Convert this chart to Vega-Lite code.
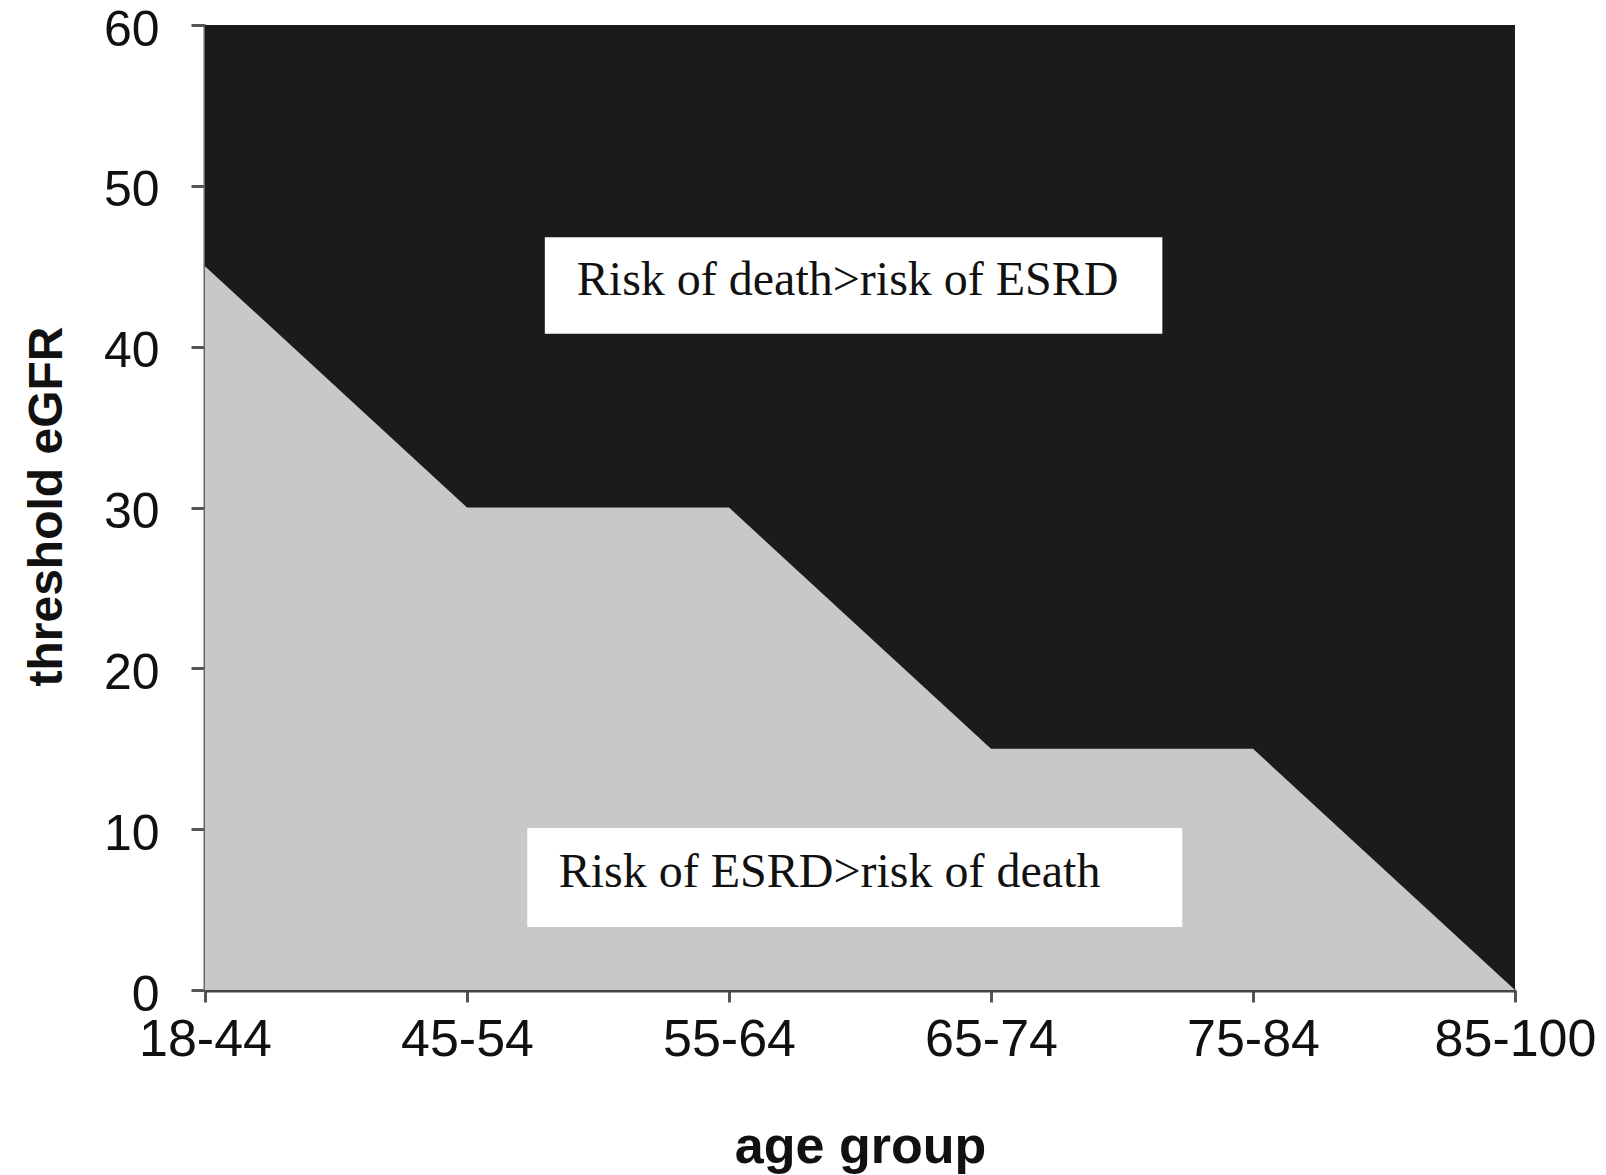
{
  "$schema": "https://vega.github.io/schema/vega-lite/v6.json",
  "autosize": {"type": "none"},
  "width": 1310,
  "height": 965,
  "padding": {"left": 205, "top": 25, "right": 91, "bottom": 185},
  "background": "white",
  "config": {"view": {"stroke": null}},
  "datasets": {
    "series": [
      {"age": "18-44", "idx": 0, "threshold": 45, "top": 60},
      {"age": "45-54", "idx": 1, "threshold": 30, "top": 60},
      {"age": "55-64", "idx": 2, "threshold": 30, "top": 60},
      {"age": "65-74", "idx": 3, "threshold": 15, "top": 60},
      {"age": "75-84", "idx": 4, "threshold": 15, "top": 60},
      {"age": "85-100", "idx": 5, "threshold": 0, "top": 60}
    ],
    "notes": [
      {"label": "Risk of death>risk of ESRD", "x1": 1.297, "x2": 3.654, "y1": 40.8, "y2": 46.8, "tx": 1.419, "ty": 44.08},
      {"label": "Risk of ESRD>risk of death", "x1": 1.23, "x2": 3.73, "y1": 3.92, "y2": 10.07, "tx": 1.35, "ty": 7.27}
    ]
  },
  "layer": [
    {
      "data": {"name": "series"},
      "mark": {"type": "area", "color": "#1b1b1b", "interpolate": "linear"},
      "encoding": {
        "x": {
          "field": "idx", "type": "quantitative",
          "scale": {"domain": [0, 5], "nice": false, "zero": false},
          "axis": {
            "title": "age group",
            "values": [0, 1, 2, 3, 4, 5],
            "labelExpr": "['18-44','45-54','55-64','65-74','75-84','85-100'][datum.value]",
            "grid": false,
            "labelFont": "Liberation Sans", "labelFontSize": 52, "labelColor": "#111",
            "labelPadding": 12, "labelFlush": false,
            "tickSize": 12, "tickWidth": 3, "tickColor": "#555",
            "domainColor": "#444", "domainWidth": 4,
            "titleFont": "Liberation Sans", "titleFontSize": 52, "titleFontWeight": "bold", "titleColor": "#111",
            "titleX": 655, "titleY": 172, "titleBaseline": "alphabetic"
          }
        },
        "y": {
          "field": "top", "type": "quantitative",
          "scale": {"domain": [0, 60], "nice": false},
          "axis": {
            "title": "threshold eGFR",
            "values": [0, 10, 20, 30, 40, 50, 60],
            "grid": false,
            "labelFont": "Liberation Sans", "labelFontSize": 50, "labelColor": "#111",
            "labelPadding": 32, "labelFlush": false, "labelOffset": 5,
            "tickSize": 14, "tickWidth": 3, "tickColor": "#555",
            "domainColor": "#666", "domainWidth": 4,
            "titleFont": "Liberation Sans", "titleFontSize": 48, "titleFontWeight": "bold", "titleColor": "#111",
            "titleX": -144, "titleY": 481, "titleBaseline": "alphabetic"
          }
        }
      }
    },
    {
      "data": {"name": "series"},
      "mark": {"type": "area", "color": "#c8c8c8", "interpolate": "linear"},
      "encoding": {
        "x": {"field": "idx", "type": "quantitative"},
        "y": {"field": "threshold", "type": "quantitative"}
      }
    },
    {
      "data": {"name": "notes"},
      "mark": {"type": "rect", "color": "white"},
      "encoding": {
        "x": {"field": "x1", "type": "quantitative"},
        "x2": {"field": "x2"},
        "y": {"field": "y1", "type": "quantitative"},
        "y2": {"field": "y2"}
      }
    },
    {
      "data": {"name": "notes"},
      "mark": {"type": "text", "align": "left", "baseline": "middle", "font": "Liberation Serif", "fontSize": 48, "color": "#111"},
      "encoding": {
        "x": {"field": "tx", "type": "quantitative"},
        "y": {"field": "ty", "type": "quantitative"},
        "text": {"field": "label"}
      }
    }
  ]
}
